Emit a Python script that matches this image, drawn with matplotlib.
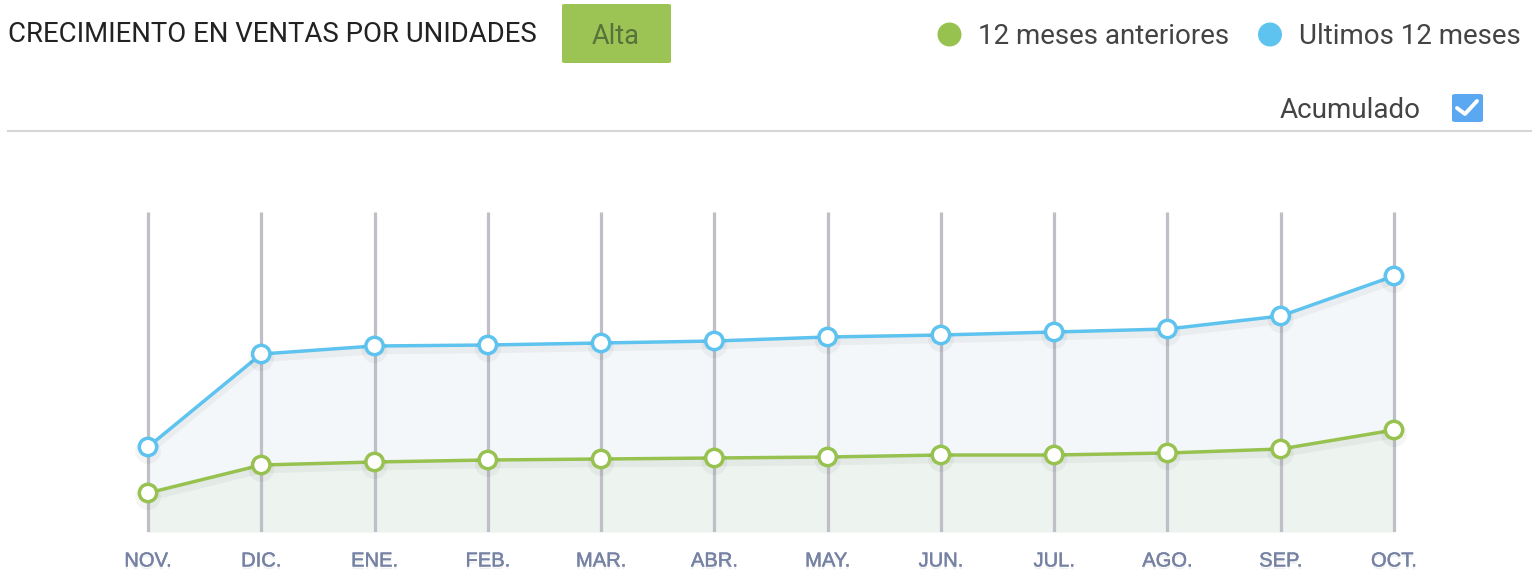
import numpy as np
import matplotlib.pyplot as plt
import matplotlib.patheffects as pe
from matplotlib.patches import FancyBboxPatch, Circle

# Data (arbitrary units: 0 = baseline, 320 = top of grid)
months = ['NOV.', 'DIC.', 'ENE.', 'FEB.', 'MAR.', 'ABR.', 'MAY.', 'JUN.',
          'JUL.', 'AGO.', 'SEP.', 'OCT.']
ultimos_12 = [85, 178, 186, 187, 189, 191, 195, 197, 200, 203, 216, 256]
anteriores_12 = [39, 67, 70, 72, 73, 74, 75, 77, 77, 79, 83, 102]

title = 'CRECIMIENTO EN VENTAS POR UNIDADES'
badge = 'Alta'
legend_labels = ['12 meses anteriores', 'Ultimos 12 meses']

BLUE = '#5ec3ee'
GREEN = '#97c24f'
GRID = '#bfbfc7'
TICK = '#7682a4'

W, H = 1532, 582
fig = plt.figure(figsize=(W / 100, H / 100), dpi=100)
fig.patch.set_facecolor('white')

# plot area: x index 0 at px 148, index 11 at px 1394, baseline px 532, top px 212
step = (1394 - 148) / 11.0
left_px = 148 - 0.3 * step
right_px = 1394 + 0.3 * step
ax = fig.add_axes([left_px / W, (H - 532) / H, (right_px - left_px) / W, 320 / H])
ax.set_xlim(-0.3, 11.3)
ax.set_ylim(0, 320)

x = np.arange(len(months))

ax.fill_between(x, 0, ultimos_12, color='#f3f7fa', linewidth=0, zorder=1)
ax.fill_between(x, 0, anteriores_12, color='#edf3ef', linewidth=0, zorder=1.5)

ax.vlines(x, 0, 320, colors=GRID, linewidth=2.3, zorder=2)

shadow = [pe.SimpleLineShadow(offset=(0, -3), shadow_color='#000000', alpha=0.04, linewidth=6),
          pe.Normal()]
ax.plot(x, ultimos_12, color=BLUE, linewidth=2.5, zorder=3, path_effects=shadow,
        marker='o', markersize=12.5, markerfacecolor='white', markeredgecolor=BLUE,
        markeredgewidth=2.5)
ax.plot(x, anteriores_12, color=GREEN, linewidth=2.5, zorder=3, path_effects=shadow,
        marker='o', markersize=12.5, markerfacecolor='white', markeredgecolor=GREEN,
        markeredgewidth=2.5)

ax.set_xticks(x)
ax.set_xticklabels(months, fontfamily='Liberation Sans', fontsize=14.5, color=TICK)
for lbl in ax.get_xticklabels():
    lbl.set_path_effects([pe.SimplePatchShadow(offset=(0, -2), shadow_rgbFace='#000000', alpha=0.06),
                          pe.Stroke(linewidth=0.3, foreground=TICK), pe.Normal()])
ax.tick_params(axis='x', length=0, pad=14)
ax.set_yticks([])
for s in ax.spines.values():
    s.set_visible(False)
ax.patch.set_alpha(0)

# header
fig.text(8 / W, 1 - 35 / H, title, fontfamily='Roboto', fontsize=19.8, color='#222222',
         va='center', ha='left')
fig.patches.append(FancyBboxPatch((562 / W, 1 - 63 / H), 109 / W, 59 / H,
                                  boxstyle='round,pad=0,rounding_size=0.002',
                                  transform=fig.transFigure, facecolor='#9bc455',
                                  edgecolor='none'))
fig.text(616 / W, 1 - 37 / H, badge, fontfamily='Roboto', fontsize=19.5, color='#55733a',
         va='center', ha='center')

# legend
for cx, col, lx, lab in [(949.5, GREEN, 978, legend_labels[0]), (1270, BLUE, 1299, legend_labels[1])]:
    fig.patches.append(Circle((cx, H - 34.5), 12, transform=None, facecolor=col,
                              edgecolor='none'))
    fig.text(lx / W, 1 - 37 / H, lab, fontfamily='Roboto', fontsize=20, color='#444444',
             va='center', ha='left')

fig.text(1280 / W, 1 - 110 / H, 'Acumulado', fontfamily='Roboto', fontsize=20,
         color='#444444', va='center', ha='left')
fig.patches.append(FancyBboxPatch((1452 / W, 1 - 122 / H), 31 / W, 28 / H,
                                  boxstyle='round,pad=0,rounding_size=0.0025',
                                  transform=fig.transFigure, facecolor='#5aa8f2',
                                  edgecolor='none'))
fig.lines.append(plt.Line2D([1457 / W, 1465 / W, 1477 / W],
                            [1 - 108 / H, 1 - 114 / H, 1 - 101 / H],
                            transform=fig.transFigure, color='white', linewidth=2.8,
                            solid_capstyle='round', solid_joinstyle='round'))

fig.lines.append(plt.Line2D([8 / W, 1532 / W], [1 - 131 / H, 1 - 131 / H],
                            transform=fig.transFigure, color='#d6d6d6', linewidth=1.5))

fig.savefig('out.png', dpi=100, facecolor='white')
